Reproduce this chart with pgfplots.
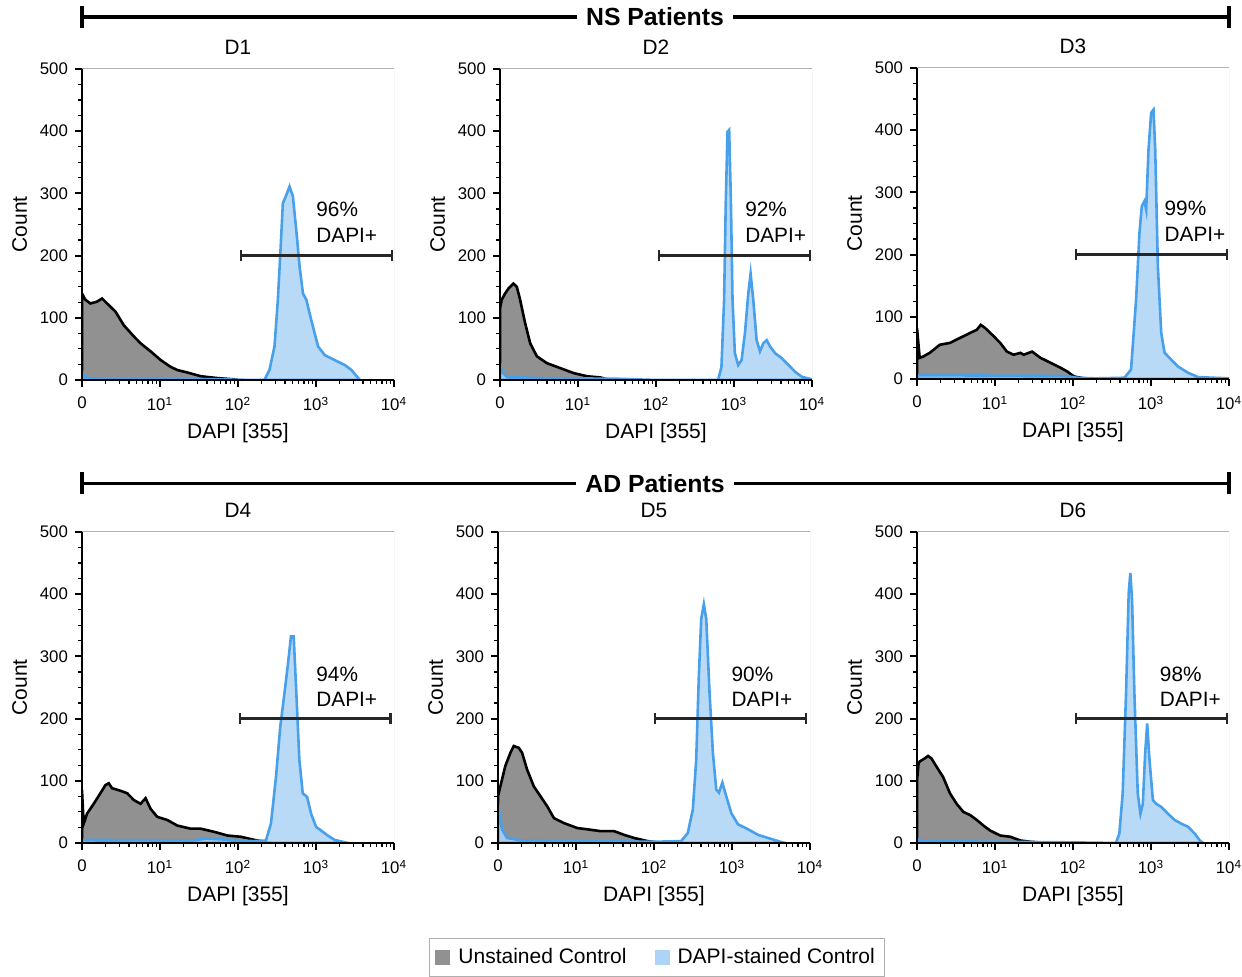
\documentclass[border=0pt]{standalone}
\usepackage{fontspec}
\setmainfont{Liberation Sans}
\usepackage{pgfplots}
\pgfplotsset{compat=1.18}
\usetikzlibrary{arrows.meta}

\definecolor{unst}{RGB}{145,145,145}
\definecolor{dapiline}{RGB}{72,160,235}
\definecolor{dapifill}{RGB}{172,212,246}
\definecolor{frame}{RGB}{175,175,175}

\tikzset{
  gate/.style={black!85, line width=1.1pt, {Bar[width=5.5pt]}-{Bar[width=5.5pt]}},
  pct/.style={anchor=west, inner sep=0pt, align=left, font=\fontsize{10.4}{12.75}\selectfont},
  box/.style={frame, line width=0.5pt},
  hdr/.style={fill=white, inner xsep=4.5pt, inner ysep=1pt, font=\bfseries\fontsize{12.4}{14}\selectfont},
}
\pgfplotsset{
  panel/.style={
    scale only axis, width=156pt, height=155.5pt,
    xmin=0, xmax=4, ymin=0, ymax=500,
    axis lines*=left,
    axis line style={black, line width=1pt, -},
    axis on top,
    tick align=outside,
    major tick length=3.5pt, minor tick length=1.8pt,
    major tick style={black, line width=1pt},
    minor tick style={black, line width=0.6pt},
    xtick={0,1,2,3,4},
    xticklabels={0,10\textsuperscript{1},10\textsuperscript{2},10\textsuperscript{3},10\textsuperscript{4}},
    minor xtick={0.301,0.477,0.602,0.699,0.778,0.845,0.903,0.954,
                 1.301,1.477,1.602,1.699,1.778,1.845,1.903,1.954,
                 2.301,2.477,2.602,2.699,2.778,2.845,2.903,2.954,
                 3.301,3.477,3.602,3.699,3.778,3.845,3.903,3.954},
    ytick={0,100,200,300,400,500},
    yticklabels={0,100,200,300,400,500},
    minor y tick num=3,
    tick label style={font=\fontsize{8.4}{10}\selectfont},
    xticklabel shift=1.5pt,
    label style={font=\fontsize{10.5}{12}\selectfont},
    title style={font=\fontsize{10.4}{12}\selectfont, at={(0.5,1)}, anchor=center, yshift=5pt},
    xlabel={DAPI [355]}, ylabel={Count},
    xlabel shift=-1pt,
    ylabel shift=-0.5pt,
  },
  ctrl/.style={draw=black, line width=1.3pt, fill=unst},
  dapi/.style={draw=dapiline, line width=1.3pt, fill=dapifill, fill opacity=0.85},
}

\begin{document}
\begin{tikzpicture}
\useasboundingbox (0,0) rectangle (621pt,488.5pt);

% ---------------- NS patients ----------------
\draw[line width=1.7pt] (41pt,480pt) -- (614.5pt,480pt);
\draw[line width=1.7pt] (41pt,474.5pt) -- (41pt,485.5pt);
\draw[line width=1.7pt] (614.5pt,474.5pt) -- (614.5pt,485.5pt);
\node[hdr] at (327.5pt,480pt) {NS Patients};

% D1
\begin{axis}[panel, at={(41pt,298.5pt)}, anchor=south west, title={D1}]
\addplot[ctrl] coordinates {
 (0,139) (0.043,129) (0.107,123) (0.193,126) (0.258,131) (0.322,123) (0.429,110)
 (0.536,88) (0.665,70) (0.751,59) (0.880,46) (1.009,32) (1.137,21) (1.223,16)
 (1.352,12) (1.524,6) (1.738,3) (1.953,1) (1.996,0)} \closedcycle;
\addplot[dapi] coordinates {
 (0,15) (0.04,4) (0.2,2) (1.0,2) (1.8,1) (2.2,0) (2.339,0) (2.403,16) (2.468,54)
 (2.511,129) (2.545,209) (2.575,284) (2.618,297) (2.661,311) (2.704,295) (2.747,241)
 (2.790,182) (2.833,139) (2.876,129) (2.940,96) (3.026,54) (3.112,40) (3.240,32)
 (3.369,24) (3.455,16) (3.562,0)} \closedcycle;
\draw[box] (rel axis cs:0,1) -- (rel axis cs:1,1) -- (rel axis cs:1,0);
\draw[gate] (axis cs:2.02,200) -- (axis cs:3.99,200);
\node[pct] at (axis cs:3.0,254) {96\%\\DAPI+};
\end{axis}

% D2
\begin{axis}[panel, at={(250pt,298.5pt)}, anchor=south west, title={D2}]
\addplot[ctrl] coordinates {
 (0,115) (0.022,129) (0.065,139) (0.108,147) (0.172,155) (0.215,150) (0.258,129)
 (0.323,91) (0.387,59) (0.473,38) (0.602,27) (0.774,19) (0.946,11) (1.118,6)
 (1.290,4) (1.376,1) (1.548,0)} \closedcycle;
\addplot[dapi] coordinates {
 (0,27) (0.03,12) (0.09,5) (0.5,3) (1.5,2) (2.0,0) (2.796,0) (2.839,21) (2.873,129)
 (2.895,289) (2.917,399) (2.938,402) (2.960,289) (2.981,129) (3.011,43) (3.054,24)
 (3.097,32) (3.140,75) (3.183,139) (3.213,171) (3.247,129) (3.290,64) (3.333,46)
 (3.376,59) (3.419,64) (3.462,54) (3.527,43) (3.613,35) (3.699,24) (3.785,13)
 (3.871,5) (4.0,1)} \closedcycle;
\draw[box] (rel axis cs:0,1) -- (rel axis cs:1,1) -- (rel axis cs:1,0);
\draw[gate] (axis cs:2.02,200) -- (axis cs:3.99,200);
\node[pct] at (axis cs:3.14,254) {92\%\\DAPI+};
\end{axis}

% D3
\begin{axis}[panel, at={(458.5pt,299pt)}, anchor=south west, title={D3}]
\addplot[ctrl] coordinates {
 (0,82) (0.034,34) (0.077,36) (0.163,42) (0.292,55) (0.422,58) (0.551,66) (0.680,74)
 (0.766,79) (0.817,87) (0.873,82) (0.981,69) (1.067,58) (1.153,44) (1.239,39)
 (1.325,42) (1.368,39) (1.475,44) (1.583,34) (1.712,26) (1.841,18) (1.927,12)
 (2.013,4) (2.142,1) (2.185,0)} \closedcycle;
\addplot[dapi] coordinates {
 (0,6) (1.9,5) (2.05,2) (2.3,1) (2.658,2) (2.744,15) (2.809,128) (2.852,235)
 (2.882,278) (2.916,286) (2.938,272) (2.968,369) (3.002,428) (3.032,433) (3.054,369)
 (3.088,181) (3.131,74) (3.174,42) (3.260,31) (3.346,20) (3.475,10) (3.604,3)
 (4.0,1)} \closedcycle;
\draw[box] (rel axis cs:0,1) -- (rel axis cs:1,1) -- (rel axis cs:1,0);
\draw[gate] (axis cs:2.026,200) -- (axis cs:3.99,200);
\node[pct] at (axis cs:3.17,254) {99\%\\DAPI+};
\end{axis}

% ---------------- AD patients ----------------
\draw[line width=1.7pt] (41pt,246.8pt) -- (614.5pt,246.8pt);
\draw[line width=1.7pt] (41pt,241.3pt) -- (41pt,252.3pt);
\draw[line width=1.7pt] (614.5pt,241.3pt) -- (614.5pt,252.3pt);
\node[hdr] at (327.5pt,246.8pt) {AD Patients};

% D4
\begin{axis}[panel, at={(41pt,67pt)}, anchor=south west, title={D4}]
\addplot[ctrl] coordinates {
 (0,85) (0.021,31) (0.064,47) (0.150,63) (0.236,80) (0.300,93) (0.343,96) (0.386,88)
 (0.493,84) (0.579,80) (0.665,69) (0.750,63) (0.815,72) (0.879,55) (0.965,42)
 (1.093,37) (1.222,28) (1.393,23) (1.522,23) (1.693,18) (1.865,12) (2.036,10)
 (2.208,5) (2.337,2) (2.422,0)} \closedcycle;
\addplot[dapi] coordinates {
 (0,5) (1.4,4) (1.6,7) (1.9,5) (2.2,3) (2.358,4) (2.422,31) (2.487,106) (2.542,187)
 (2.585,230) (2.637,284) (2.679,332) (2.714,332) (2.744,252) (2.787,133) (2.830,80)
 (2.886,74) (2.937,47) (3.001,26) (3.065,20) (3.151,12) (3.237,5) (3.408,0)} \closedcycle;
\draw[box] (rel axis cs:0,1) -- (rel axis cs:1,1) -- (rel axis cs:1,0);
\draw[gate] (axis cs:2.015,200) -- (axis cs:3.97,200);
\node[pct] at (axis cs:3.0,251) {94\%\\DAPI+};
\end{axis}

% D5 (carries the legend)
\begin{axis}[panel, at={(249pt,67pt)}, anchor=south west, title={D5},
  legend columns=2,
  legend style={at={(0.51,-0.368)}, anchor=center, draw=frame, line width=0.6pt,
    font=\fontsize{10.5}{12}\selectfont, inner xsep=3pt, inner ysep=3pt,
    /tikz/every odd column/.append style={column sep=2pt},
    /tikz/every even column/.append style={column sep=12pt}},
  legend image code/.code={\fill[#1] (0pt,-3.75pt) rectangle (7.5pt,3.75pt);},
]
\addlegendimage{fill=unst, draw=none}
\addlegendentry{Unstained Control}
\addlegendimage{fill=dapifill, draw=none}
\addlegendentry{DAPI-stained Control}
\addplot[ctrl, forget plot] coordinates {
 (0,75) (0.030,91) (0.094,124) (0.159,145) (0.202,156) (0.266,153) (0.309,145)
 (0.373,118) (0.459,91) (0.545,75) (0.631,59) (0.717,40) (0.845,32) (1.017,24)
 (1.146,22) (1.318,19) (1.489,19) (1.618,13) (1.747,8) (1.918,3) (2.090,0)} \closedcycle;
\addplot[dapi, forget plot] coordinates {
 (0,65) (0.05,22) (0.116,8) (0.3,4) (1.0,3) (2.0,2) (2.348,3) (2.433,16) (2.498,54)
 (2.541,134) (2.575,269) (2.605,360) (2.639,384) (2.670,360) (2.712,242) (2.755,145)
 (2.798,86) (2.833,81) (2.876,97) (2.927,75) (2.991,48) (3.077,30) (3.206,22)
 (3.335,13) (3.464,8) (3.592,3) (3.678,0)} \closedcycle;
\draw[box] (rel axis cs:0,1) -- (rel axis cs:1,1) -- (rel axis cs:1,0);
\draw[gate] (axis cs:1.996,200) -- (axis cs:3.966,200);
\node[pct] at (axis cs:2.99,251) {90\%\\DAPI+};
\end{axis}

% D6
\begin{axis}[panel, at={(458.5pt,67pt)}, anchor=south west, title={D6}]
\addplot[ctrl] coordinates {
 (0,100) (0.02,128) (0.034,131) (0.099,136) (0.142,140) (0.185,136) (0.249,123)
 (0.335,106) (0.422,80) (0.508,63) (0.594,50) (0.680,45) (0.766,37) (0.852,28)
 (0.938,20) (1.067,12) (1.196,10) (1.325,4) (1.454,2) (1.669,0)} \closedcycle;
\addplot[dapi] coordinates {
 (0,6) (0.1,3) (1.0,2) (2.0,1) (2.551,0) (2.594,15) (2.637,80) (2.680,241) (2.714,402)
 (2.735,434) (2.757,391) (2.787,241) (2.830,80) (2.865,47) (2.895,63) (2.925,144)
 (2.951,192) (2.981,133) (3.024,69) (3.067,63) (3.131,58) (3.217,47) (3.303,37)
 (3.389,31) (3.475,26) (3.561,15) (3.626,4) (3.669,0)} \closedcycle;
\draw[box] (rel axis cs:0,1) -- (rel axis cs:1,1) -- (rel axis cs:1,0);
\draw[gate] (axis cs:2.026,200) -- (axis cs:3.99,200);
\node[pct] at (axis cs:3.11,251) {98\%\\DAPI+};
\end{axis}
\end{tikzpicture}
\end{document}
